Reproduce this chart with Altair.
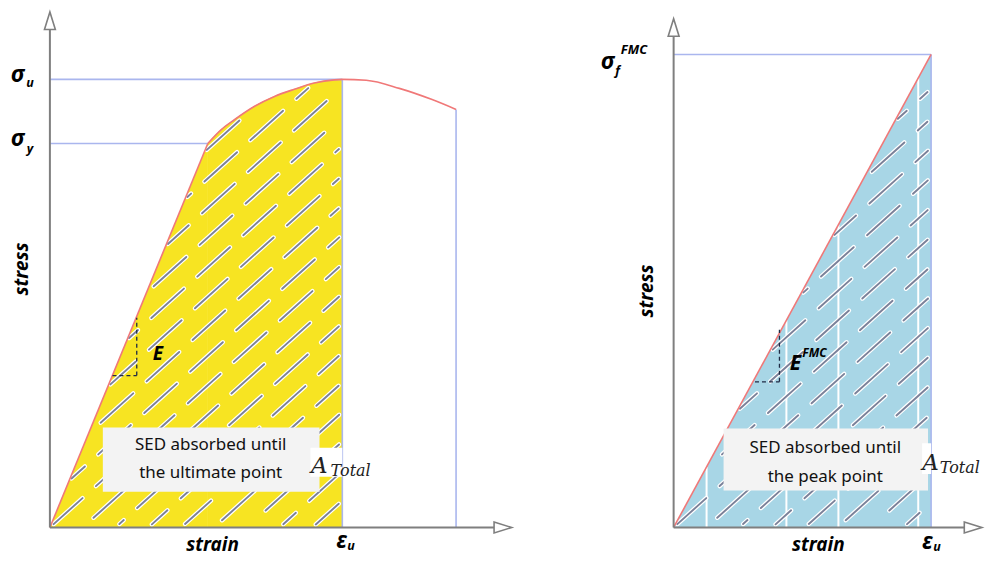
import altair as alt
import pandas as pd
import numpy as np

# ---------------- data (normalised units: eps_u = 1, peak stress = 1) ----------------
# Left panel: elastic-plastic stress-strain curve
L_elastic_strain = [0.0, 0.540]
L_elastic_stress = [0.0, 0.857]
L_plastic_strain = [0.540, 0.586, 0.631, 0.700, 0.768, 0.836, 0.904, 0.973, 1.0,
                    1.082, 1.195, 1.307, 1.389]
L_plastic_stress = [0.857, 0.888, 0.910, 0.940, 0.962, 0.978, 0.992, 0.999, 1.0,
                    0.998, 0.980, 0.955, 0.933]
L_eps_y, L_sig_y = 0.540, 0.857
L_eps_u, L_sig_u = 1.0, 1.0
L_eps_end, L_sig_end = 1.389, 0.933

# Right panel: linear (FMC) stress-strain curve
R_strain = [0.0, 1.0]
R_stress = [0.0, 1.0]
R_stripes = [0.128, 0.438, 0.640, 0.950]

# ---------------- layout ----------------
W1, W2, H, GAP = 515, 436, 544, 25
LX = alt.Scale(domain=[-0.1433, 1.6143], nice=False, zero=False)
LY = alt.Scale(domain=[-0.0557, 1.1559], nice=False, zero=False)
RX = alt.Scale(domain=[-0.4922, 1.1977], nice=False, zero=False)
RY = alt.Scale(domain=[-0.0528, 1.0949], nice=False, zero=False)
L_PX = (293.0, 449.0)   # px per unit (x, y)
R_PX = (258.0, 474.0)

AXIS_C = "#7f7f7f"
GUIDE_C = "#aab6ee"
CURVE_C = "#f07878"
HATCH_C = "#7b8199"
SANS = "Noto Sans"
SERIF = "DejaVu Serif"


def enc(xs, ys, x2=False, y2=False):
    e = dict(x=alt.X("x:Q", scale=xs, axis=None), y=alt.Y("y:Q", scale=ys, axis=None))
    if x2:
        e["x2"] = alt.X2("x2:Q")
    if y2:
        e["y2"] = alt.Y2("y2:Q")
    return e


def segs(xs, ys, rows, **kw):
    df = pd.DataFrame(rows, columns=["x", "y", "x2", "y2"])
    return alt.Chart(df).mark_rule(**kw).encode(**enc(xs, ys, True, True))


def text(xs, ys, rows, **kw):
    df = pd.DataFrame(rows, columns=["x", "y", "t"])
    return alt.Chart(df).mark_text(**kw).encode(text="t:N", **enc(xs, ys))


def rect(xs, ys, row, color):
    df = pd.DataFrame([row], columns=["x", "y", "x2", "y2"])
    return alt.Chart(df).mark_rect(color=color, opacity=1).encode(**enc(xs, ys, True, True))


def hatch(px, top_x, top_y, x_end, spacing=22.0, dash=44.0, period=62.0, ang=42.0):
    a = np.deg2rad(ang)
    d = np.array([np.cos(a), np.sin(a)])
    n = np.array([-np.sin(a), np.cos(a)])
    tx = np.array(top_x) * px[0]
    ty = np.array(top_y) * px[1]
    xe = x_end * px[0]
    out = []
    for k in range(-40, 40):
        base = k * spacing * n
        shift = (k * 23.0) % period
        for j in range(-25, 25):
            t0 = j * period + shift
            ts = np.linspace(t0, t0 + dash, 45)
            X = base[0] + ts * d[0]
            Y = base[1] + ts * d[1]
            ok = (X >= 3) & (X <= xe - 3) & (Y >= 3) & (Y <= np.interp(X, tx, ty) - 3)
            idx = np.where(ok)[0]
            if len(idx) < 5:
                continue
            out.append((X[idx[0]] / px[0], Y[idx[0]] / px[1], X[idx[-1]] / px[0], Y[idx[-1]] / px[1]))
    return out


def arrows(xs, ys, x_tip, y_tip):
    up = pd.DataFrame({"x": [0.0], "y": [y_tip]})
    rt = pd.DataFrame({"x": [x_tip], "y": [0.0]})
    a1 = alt.Chart(up).mark_point(shape="M-0.62,1L0,-1L0.62,1Z", size=310, filled=True,
                                  fill="white", stroke=AXIS_C, strokeWidth=1.6, opacity=1).encode(**enc(xs, ys))
    a2 = alt.Chart(rt).mark_point(shape="M-1,-0.62L1,0L-1,0.62Z", size=310, filled=True,
                                  fill="white", stroke=AXIS_C, strokeWidth=1.6, opacity=1).encode(**enc(xs, ys))
    return a1 + a2


# ---------------- left panel ----------------
el = pd.DataFrame({"x": L_elastic_strain, "y": L_elastic_stress})
pl = pd.DataFrame({"x": L_plastic_strain, "y": L_plastic_stress})
pl_fill = pl[pl.x <= L_eps_u + 1e-9].copy()
l_area = (alt.Chart(el).mark_area(color="#f7e422", opacity=1).encode(y2=alt.datum(0), **enc(LX, LY))
          + alt.Chart(pl_fill).mark_area(color="#f7e422", interpolate="monotone", opacity=1,
                                         stroke="#f7e422", strokeWidth=0.8).encode(y2=alt.datum(0), **enc(LX, LY)))
top_x = L_elastic_strain + pl_fill.x.tolist()[1:]
top_y = L_elastic_stress + pl_fill.y.tolist()[1:]
l_hs = hatch(L_PX, top_x, top_y, L_eps_u)
l_hatch = (segs(LX, LY, l_hs, color="white", strokeWidth=4.4, strokeCap="round")
           + segs(LX, LY, l_hs, color=HATCH_C, strokeWidth=1.9, strokeCap="round"))
l_guides = segs(LX, LY, [
    (0, L_sig_u, L_eps_u, L_sig_u),
    (0, L_sig_y, L_eps_y, L_sig_y),
    (L_eps_u, 0, L_eps_u, L_sig_u),
    (L_eps_end, 0, L_eps_end, L_sig_end),
], color=GUIDE_C, strokeWidth=1.6)
l_curve = (alt.Chart(el).mark_line(color=CURVE_C, strokeWidth=1.6).encode(**enc(LX, LY))
           + alt.Chart(pl).mark_line(color=CURVE_C, strokeWidth=1.6, interpolate="monotone").encode(**enc(LX, LY)))
l_axes = segs(LX, LY, [(0, 0, 1.52, 0), (0, 0, 0, 1.11)], color=AXIS_C, strokeWidth=2)
l_arrows = arrows(LX, LY, 1.549, 1.131)
l_slope = segs(LX, LY, [(0.297, 0.339, 0.297, 0.468), (0.214, 0.339, 0.297, 0.339)],
               color="#1f2a44", strokeWidth=1.3, strokeDash=[4, 3])
l_box = rect(LX, LY, (0.181, 0.080, 0.922, 0.223), "#f3f3f3")
l_abox = rect(LX, LY, (0.891, 0.113, 1.0, 0.178), "white")
l_boxtxt = text(LX, LY, [(0.55, 0.185, "SED absorbed until"), (0.55, 0.121, "the ultimate point")],
                font=SANS, fontSize=17, color="#111", align="center", baseline="middle")
l_A = text(LX, LY, [(0.893, 0.122, "A")], font=SERIF, fontStyle="italic", fontSize=23,
           color="#222", align="left", baseline="alphabetic")
l_Tot = text(LX, LY, [(0.960, 0.116, "Total")], font=SERIF, fontStyle="italic", fontSize=16,
             color="#222", align="left", baseline="alphabetic")
l_big = text(LX, LY, [(-0.110, 1.010, "σ"), (-0.110, 0.866, "σ"), (0.997, -0.030, "ε")],
             font=SANS, fontWeight="bold", fontStyle="italic", fontSize=23, color="black",
             align="center", baseline="middle")
l_sub = text(LX, LY, [(-0.068, 0.992, "u"), (-0.068, 0.845, "y"), (1.030, -0.042, "u")],
             font=SANS, fontWeight="bold", fontStyle="italic", fontSize=12.5, color="black",
             align="center", baseline="middle")
l_words = text(LX, LY, [(0.556, -0.038, "strain"), (0.369, 0.388, "E")],
               font=SANS, fontWeight="bold", fontStyle="italic", fontSize=19, color="black",
               align="center", baseline="middle")
l_stress = text(LX, LY, [(-0.096, 0.577, "stress")], font=SANS, fontWeight="bold", fontStyle="italic",
                fontSize=19, color="black", align="center", baseline="middle", angle=270)

left = alt.layer(l_area, l_hatch, l_guides, l_curve, l_axes, l_arrows, l_slope, l_box, l_abox,
                 l_boxtxt, l_A, l_Tot, l_big, l_sub, l_words, l_stress).properties(width=W1, height=H)

# ---------------- right panel ----------------
rdf = pd.DataFrame({"x": R_strain, "y": R_stress})
r_area = alt.Chart(rdf).mark_area(color="#a8d6e6", opacity=1).encode(y2=alt.datum(0), **enc(RX, RY))
r_str = segs(RX, RY, [(s, 0.0, s, np.interp(s, R_strain, R_stress)) for s in R_stripes],
             color="white", strokeWidth=2)
r_hs = hatch(R_PX, R_strain, R_stress, R_strain[-1])
r_hatch = (segs(RX, RY, r_hs, color="white", strokeWidth=4.4, strokeCap="round")
           + segs(RX, RY, r_hs, color=HATCH_C, strokeWidth=1.9, strokeCap="round"))
r_guides = segs(RX, RY, [(0, R_stress[-1], R_strain[-1], R_stress[-1]),
                         (R_strain[-1], 0, R_strain[-1], R_stress[-1])], color=GUIDE_C, strokeWidth=1.6)
r_curve = alt.Chart(rdf).mark_line(color=CURVE_C, strokeWidth=1.6).encode(**enc(RX, RY))
r_axes = segs(RX, RY, [(0, 0, 1.13, 0), (0, 0, 0, 1.04)], color=AXIS_C, strokeWidth=2)
r_arrows = arrows(RX, RY, 1.163, 1.057)
r_slope = segs(RX, RY, [(0.411, 0.308, 0.411, 0.418), (0.316, 0.308, 0.411, 0.308)],
               color="#1f2a44", strokeWidth=1.3, strokeDash=[4, 3])
r_box = rect(RX, RY, (0.194, 0.078, 0.988, 0.209), "#f3f3f3")
r_abox = rect(RX, RY, (0.965, 0.113, 1.0, 0.178), "white")
r_boxtxt = text(RX, RY, [(0.589, 0.168, "SED absorbed until"), (0.589, 0.107, "the peak point")],
                font=SANS, fontSize=17, color="#111", align="center", baseline="middle")
r_A = text(RX, RY, [(0.966, 0.122, "A")], font=SERIF, fontStyle="italic", fontSize=23,
           color="#222", align="left", baseline="alphabetic")
r_Tot = text(RX, RY, [(1.034, 0.116, "Total")], font=SERIF, fontStyle="italic", fontSize=16,
             color="#222", align="left", baseline="alphabetic")
r_big = text(RX, RY, [(-0.256, 0.985, "σ"), (0.985, -0.030, "ε")],
             font=SANS, fontWeight="bold", fontStyle="italic", fontSize=23, color="black",
             align="center", baseline="middle")
r_sub = text(RX, RY, [(-0.218, 0.964, "f"), (1.023, -0.042, "u")],
             font=SANS, fontWeight="bold", fontStyle="italic", fontSize=12.5, color="black",
             align="center", baseline="middle")
r_sup = text(RX, RY, [(-0.205, 1.010, "FMC")], font=SANS, fontWeight="bold", fontStyle="italic",
             fontSize=13, color="black", align="left", baseline="middle")
r_words = text(RX, RY, [(0.562, -0.038, "strain")],
               font=SANS, fontWeight="bold", fontStyle="italic", fontSize=19, color="black",
               align="center", baseline="middle")
r_E = text(RX, RY, [(0.473, 0.345, "E")],
           font=SANS, fontWeight="bold", fontStyle="italic", fontSize=21, color="black",
           align="center", baseline="middle")
r_esup = text(RX, RY, [(0.500, 0.368, "FMC")], font=SANS, fontWeight="bold", fontStyle="italic",
              fontSize=12, color="black", align="left", baseline="middle")
r_stress = text(RX, RY, [(-0.105, 0.50, "stress")], font=SANS, fontWeight="bold", fontStyle="italic",
                fontSize=19, color="black", align="center", baseline="middle", angle=270)

right = alt.layer(r_area, r_str, r_hatch, r_guides, r_curve, r_axes, r_arrows, r_slope, r_box, r_abox,
                  r_boxtxt, r_A, r_Tot, r_big, r_sub, r_sup, r_words, r_E, r_esup, r_stress
                  ).properties(width=W2, height=H)

chart = alt.hconcat(left, right, spacing=GAP).properties(padding=0, background="white").configure_view(
    stroke=None)

chart.save("out.html", embed_options={"renderer": "svg", "actions": False})
